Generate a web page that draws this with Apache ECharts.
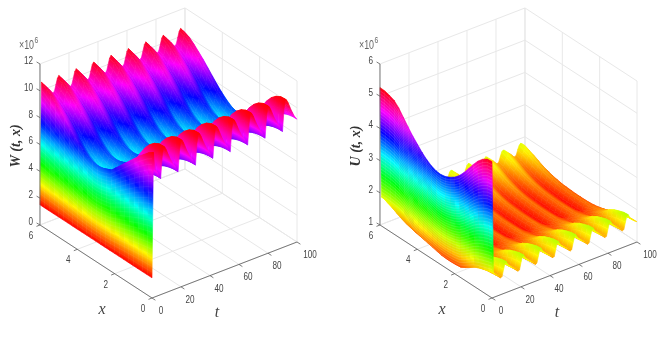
<!DOCTYPE html>
<html><head><meta charset="utf-8">
<style>html,body{margin:0;padding:0;background:#fff}#c{width:670px;height:341px}</style>
<script src="https://cdn.jsdelivr.net/npm/echarts@6/dist/echarts.min.js"></script>
</head><body><div id="c"></div>
<script>
// ---- axis ticks ----
const tTicks = [0, 20, 40, 60, 80, 100];
const xTicks = [0, 2, 4, 6];
const wTicks = [0, 2, 4, 6, 8, 10, 12];
const uTicks = [1, 2, 3, 4, 5, 6];
// ---- x stations of the value tables (left to right in each row) ----
const xStations = [6,5.75,5.5,5.25,5,4.75,4.5,4.25,4,3.75,3.5,3.25,3,2.75,2.5,2.25,2,1.75,1.5,1.25,1,0.75,0.5,0.25,0];
// ---- W(t,x) x 10^6 ----
const W_t0 = [1.5,1.5,1.5,1.5,1.5,1.5,1.5,1.5,1.5,1.5,1.5,1.5,1.5,1.5,1.5,1.5,1.5,1.5,1.5,1.5,1.5,1.5,1.5,1.5,1.5];
const W_t1 = [10.6,10.4,10.1,9.75,9.4,9.0,8.6,8.2,7.85,7.55,7.3,7.15,7.1,7.15,7.3,7.45,7.85,8.25,8.65,9.05,9.45,9.85,10.2,10.55,10.8];
// one 12-unit cycle of t (the picture repeats it): row = t mod 12
const W_cycle = [
[10.43,10.28,9.98,9.63,9.28,8.88,8.48,8.08,7.73,7.43,7.18,7.03,6.98,7.03,7.18,7.41,7.74,8.17,8.59,9.01,9.38,9.66,9.86,9.97,10.0],
[10.6,10.4,10.1,9.75,9.4,9.0,8.6,8.2,7.85,7.55,7.3,7.15,7.1,7.15,7.3,7.50,7.79,8.16,8.53,8.89,9.21,9.46,9.63,9.73,9.75],
[10.46,10.31,10.01,9.66,9.31,8.91,8.51,8.11,7.76,7.46,7.21,7.06,7.01,7.06,7.21,7.39,7.67,8.01,8.36,8.70,9.00,9.23,9.39,9.48,9.5],
[10.31,10.16,9.86,9.51,9.16,8.76,8.36,7.96,7.61,7.31,7.06,6.91,6.86,6.91,7.06,7.24,7.51,7.84,8.18,8.52,8.81,9.03,9.19,9.28,9.3],
[10.17,10.02,9.72,9.37,9.02,8.62,8.22,7.82,7.47,7.17,6.92,6.77,6.72,6.77,6.92,7.10,7.37,7.70,8.04,8.37,8.66,8.88,9.04,9.13,9.15],
[10.02,9.87,9.57,9.22,8.87,8.47,8.07,7.67,7.32,7.02,6.77,6.62,6.57,6.62,6.77,6.93,7.18,7.48,7.79,8.09,8.35,8.56,8.70,8.78,8.8],
[9.88,9.73,9.43,9.08,8.73,8.33,7.93,7.53,7.18,6.88,6.63,6.48,6.43,6.48,6.63,6.79,7.04,7.34,7.65,7.95,8.21,8.42,8.56,8.64,8.66],
[9.69,9.54,9.24,8.89,8.54,8.14,7.74,7.34,6.99,6.69,6.44,6.29,6.24,6.29,6.44,6.74,7.19,7.76,8.32,8.88,9.37,9.75,10.01,10.16,10.2],
[9.49,9.34,9.04,8.69,8.34,7.94,7.54,7.14,6.79,6.49,6.24,6.09,6.04,6.09,6.24,6.62,7.19,7.90,8.61,9.32,9.94,10.41,10.74,10.93,10.98],
[9.45,9.3,9.0,8.65,8.3,7.9,7.5,7.1,6.75,6.45,6.2,6.05,6.0,6.05,6.2,6.57,7.13,7.83,8.53,9.22,9.83,10.29,10.62,10.80,10.85],
[9.57,9.42,9.12,8.77,8.42,8.02,7.62,7.22,6.87,6.57,6.32,6.17,6.12,6.17,6.32,6.77,7.27,7.90,8.52,9.14,9.68,10.10,10.39,10.56,10.6],
[10.0,9.85,9.55,9.2,8.85,8.45,8.05,7.65,7.3,7.0,6.75,6.6,6.55,6.6,6.75,7.15,7.56,8.08,8.59,9.10,9.55,9.89,10.13,10.27,10.3]
];
// ---- U(t,x) x 10^6 ----
const U_t0 = [5.27,5.26,5.22,5.16,5.02,4.82,4.62,4.43,4.27,4.11,3.98,3.88,3.82,3.8,3.83,3.9,4.0,4.14,4.33,4.55,4.77,4.97,5.12,5.22,5.24];
const U_t1 = [1.85,1.85,1.85,1.84,1.82,1.77,1.67,1.52,1.45,1.40,1.36,1.33,1.29,1.26,1.25,1.25,1.26,1.28,1.36,1.46,1.56,1.63,1.68,1.73,1.78];
const U_cycle = [
[1.81,1.74,1.68,1.60,1.53,1.47,1.43,1.39,1.36,1.34,1.33,1.32,1.32,1.32,1.33,1.33,1.37,1.42,1.49,1.56,1.64,1.69,1.74,1.77,1.78],
[1.85,1.78,1.72,1.64,1.57,1.51,1.46,1.42,1.39,1.37,1.36,1.35,1.35,1.35,1.36,1.35,1.38,1.43,1.49,1.55,1.61,1.66,1.70,1.73,1.74],
[1.82,1.75,1.69,1.61,1.54,1.48,1.44,1.40,1.37,1.35,1.34,1.33,1.33,1.33,1.34,1.33,1.36,1.41,1.47,1.52,1.58,1.63,1.66,1.69,1.70],
[1.77,1.71,1.64,1.57,1.50,1.44,1.39,1.36,1.33,1.31,1.30,1.29,1.29,1.29,1.30,1.31,1.34,1.39,1.44,1.49,1.55,1.59,1.63,1.65,1.66],
[1.73,1.66,1.60,1.52,1.45,1.40,1.35,1.32,1.29,1.28,1.27,1.26,1.26,1.26,1.27,1.29,1.32,1.36,1.41,1.47,1.52,1.57,1.60,1.62,1.63],
[1.68,1.62,1.55,1.48,1.41,1.36,1.31,1.28,1.26,1.24,1.23,1.23,1.23,1.23,1.24,1.27,1.30,1.34,1.38,1.43,1.48,1.52,1.55,1.57,1.58],
[1.64,1.58,1.51,1.43,1.37,1.31,1.27,1.24,1.22,1.21,1.20,1.19,1.19,1.19,1.20,1.25,1.27,1.31,1.35,1.39,1.43,1.47,1.49,1.51,1.52],
[1.58,1.52,1.45,1.37,1.31,1.26,1.22,1.19,1.17,1.16,1.15,1.15,1.15,1.15,1.16,1.22,1.25,1.29,1.34,1.39,1.45,1.49,1.52,1.54,1.55],
[1.51,1.46,1.39,1.32,1.26,1.21,1.17,1.15,1.13,1.12,1.11,1.11,1.11,1.11,1.12,1.21,1.26,1.33,1.41,1.49,1.58,1.65,1.70,1.73,1.75],
[1.5,1.45,1.37,1.30,1.24,1.19,1.15,1.13,1.11,1.10,1.09,1.09,1.09,1.09,1.10,1.22,1.28,1.37,1.47,1.59,1.70,1.79,1.86,1.91,1.93],
[1.54,1.49,1.41,1.34,1.28,1.23,1.19,1.16,1.14,1.13,1.12,1.12,1.12,1.12,1.13,1.25,1.31,1.40,1.50,1.61,1.73,1.82,1.88,1.93,1.95],
[1.69,1.63,1.56,1.49,1.42,1.37,1.32,1.29,1.26,1.25,1.24,1.23,1.23,1.23,1.24,1.30,1.34,1.41,1.50,1.58,1.67,1.74,1.80,1.83,1.85]
];

const GRID = '#e8e8e8', AXIS = '#5a5a5a', TXT = '#444', SX = 0.74;
const panels = [
  {ox:152, oy:298, zBase:0, zPx:13.42, zMin:1.5,  zMax:10.75, t0:W_t0, t1:W_t1, cyc:W_cycle, zT:wTicks, name:'W', exp:19, meshN:22, meshA:0.10},
  {ox:492, oy:298, zBase:1, zPx:32.2,  zMin:1.05, zMax:5.3,   t0:U_t0, t1:U_t1, cyc:U_cycle, zT:uTicks, name:'U', exp:359, meshN:34, meshA:0.22}
];
const TDX = 1.45, TDY = 0.56, XDX = 18.67, XDY = 12.17;
function proj(P, t, x, z){
  return [P.ox + t*TDX - x*XDX, P.oy - t*TDY - x*XDY - (z-P.zBase)*P.zPx];
}
function val(P, t, xi){
  if (t === 0) return P.t0[xi];
  if (t === 1) return P.t1[xi];
  return P.cyc[t % 12][xi];
}
function hsv(h){
  h = Math.max(0, Math.min(0.999, h)) * 6;
  const i = Math.floor(h), f = h - i;
  const c = [[1,f,0],[1-f,1,0],[0,1,f],[0,1-f,1],[f,0,1],[1,0,1-f]][i];
  return 'rgb(' + c.map(v => Math.round(v*255)).join(',') + ')';
}
function cellFill(P, pts, zs){
  const ux=(pts[1][0]+pts[2][0]-pts[0][0]-pts[3][0])/2, uy=(pts[1][1]+pts[2][1]-pts[0][1]-pts[3][1])/2;
  const vx=(pts[3][0]+pts[2][0]-pts[0][0]-pts[1][0])/2, vy=(pts[3][1]+pts[2][1]-pts[0][1]-pts[1][1])/2;
  const du=(zs[1]+zs[2]-zs[0]-zs[3])/2, dv=(zs[3]+zs[2]-zs[0]-zs[1])/2;
  const det=ux*vy-uy*vx;
  const zc=(zs[0]+zs[1]+zs[2]+zs[3])/4;
  const span=P.zMax-P.zMin;
  if (Math.abs(det)<1e-4) return hsv((zc-P.zMin)/span);
  const gx=(du*vy-dv*uy)/det, gy=(dv*ux-du*vx)/det, g2=gx*gx+gy*gy;
  if (g2<1e-9) return hsv((zc-P.zMin)/span);
  const cx=(pts[0][0]+pts[1][0]+pts[2][0]+pts[3][0])/4, cy=(pts[0][1]+pts[1][1]+pts[2][1]+pts[3][1])/4;
  const lo=Math.min.apply(null,zs), hi=Math.max.apply(null,zs);
  const n=Math.max(1,Math.ceil((hi-lo)/span*12));
  const stops=[];
  for(let i=0;i<=n;i++){ stops.push({offset:i/n,color:hsv((lo+(hi-lo)*i/n-P.zMin)/span)}); }
  return {type:'linear',global:true,
    x:cx+gx*(lo-zc)/g2,y:cy+gy*(lo-zc)/g2,x2:cx+gx*(hi-zc)/g2,y2:cy+gy*(hi-zc)/g2,colorStops:stops};
}
function cellsFor(){
  const out=[];
  for(let xi=0;xi<xStations.length-1;xi++){
    for(let t=99;t>=0;t--){ out.push([t,xi]); }
  }
  return out;
}
function surfaceSeries(P){
  return {type:'custom',coordinateSystem:'cartesian2d',silent:true,clip:false,z:3,animation:false,
    data:cellsFor(),encode:{x:0,y:1},
    renderItem:function(params,api){
      const t=api.value(0), xi=api.value(1);
      const corners=[[t,xi],[t+1,xi],[t+1,xi+1],[t,xi+1]];
      const zs=corners.map(c=>val(P,c[0],c[1]));
      const pts=corners.map((c,i)=>api.coord(proj(P,c[0],xStations[c[1]],zs[i])));
      const fill=cellFill(P,pts,zs);
      return {type:'polygon',shape:{points:pts},silent:true,
        style:{fill:fill,stroke:fill,lineWidth:0.6}};
    }};
}
function frameSeries(P, top){
  return {type:'custom',coordinateSystem:'cartesian2d',silent:true,clip:false,z:top?5:1,animation:false,
    data:[[0,0]],encode:{x:0,y:1},
    renderItem:function(params,api){
      const kids=[];
      const c=(p)=>api.coord(p);
      const line=(a,b,col,w)=>kids.push({type:'line',silent:true,shape:{x1:c(a)[0],y1:c(a)[1],x2:c(b)[0],y2:c(b)[1]},style:{stroke:col,lineWidth:w}});
      const text=(s,p,opt)=>{opt=opt||{};const q=c(p);kids.push({type:'text',silent:true,x:q[0],y:q[1],scaleX:opt.sx||SX,rotation:opt.rot||0,
        style:{text:s,fill:opt.fill||TXT,fontSize:opt.size||11,fontFamily:opt.ff||'"Liberation Sans",Arial,sans-serif',fontStyle:opt.fs||'normal',fontWeight:opt.fw||'normal',align:opt.al||'center',verticalAlign:'middle'}});};
      const zLo=P.zT[0], zHi=P.zT[P.zT.length-1];
      if(!top){
        xTicks.forEach(x=>{ line(proj(P,0,x,zLo),proj(P,100,x,zLo),GRID,1); line(proj(P,100,x,zLo),proj(P,100,x,zHi),GRID,1); });
        tTicks.forEach(t=>{ line(proj(P,t,0,zLo),proj(P,t,6,zLo),GRID,1); line(proj(P,t,6,zLo),proj(P,t,6,zHi),GRID,1); });
        P.zT.forEach(z=>{ line(proj(P,0,6,z),proj(P,100,6,z),GRID,1); line(proj(P,100,6,z),proj(P,100,0,z),GRID,1); });
      } else {
        // faint surface mesh on the front sheet between the t=0 and t=1 rows
        for(let k=1;k<P.meshN;k++){
          const pts=xStations.map((x,xi)=>c(proj(P,0,x,P.t0[xi]+(P.t1[xi]-P.t0[xi])*k/P.meshN)));
          kids.push({type:'polyline',silent:true,shape:{points:pts},style:{fill:'none',stroke:'rgba(255,255,255,'+P.meshA+')',lineWidth:0.6}});
        }
        line(proj(P,0,0,zLo),proj(P,100,0,zLo),AXIS,0.8);
        line(proj(P,0,0,zLo),proj(P,0,6,zLo),AXIS,0.8);
        line(proj(P,0,6,zLo),proj(P,0,6,zHi),AXIS,0.8);
        xTicks.forEach(x=>{ const a=proj(P,0,x,zLo); line(a,[a[0]-3.5,a[1]+1.4],AXIS,0.8);
          text(String(x),[a[0]-9,a[1]+11]); });
        tTicks.forEach(t=>{ const a=proj(P,t,0,zLo); line(a,[a[0]+3.4,a[1]+2.2],AXIS,0.8);
          text(String(t),[a[0]+ (t===100?13:9),a[1]+13]); });
        P.zT.forEach(z=>{ const a=proj(P,0,6,z); line(a,[a[0]-3.4,a[1]-2],AXIS,0.8);
          text(String(z),[a[0]-7,a[1]-3],{al:'right'}); });
        text('×10',[P.exp,46],{al:'left',size:12,fill:'#666'});
        text('6',[P.exp+15.5,41],{al:'left',size:9,fill:'#666'});
        const mid=P.ox-112;
        text(P.name+' (t, x)',[mid-24,146],{rot:Math.PI/2,sx:1,size:14,ff:'"Liberation Serif",serif',fs:'italic',fw:'bold',fill:'#333'});
        text('x',[P.ox-50,310],{sx:1,size:16,ff:'"Liberation Serif",serif',fs:'italic',fill:'#444'});
        text('t',[P.ox+65,313],{sx:1,size:16,ff:'"Liberation Serif",serif',fs:'italic',fill:'#444'});
      }
      return {type:'group',children:kids};
    }};
}
const chart=echarts.init(document.getElementById('c'),null,{renderer:'canvas'});
chart.setOption({
  animation:false,
  backgroundColor:'#fff',
  grid:{left:0,right:0,top:0,bottom:0},
  xAxis:{type:'value',min:0,max:670,show:false},
  yAxis:{type:'value',min:0,max:341,inverse:true,show:false},
  series:[frameSeries(panels[0],false),frameSeries(panels[1],false),
    surfaceSeries(panels[0]),surfaceSeries(panels[1]),
    frameSeries(panels[0],true),frameSeries(panels[1],true)]
});
</script></body></html>
